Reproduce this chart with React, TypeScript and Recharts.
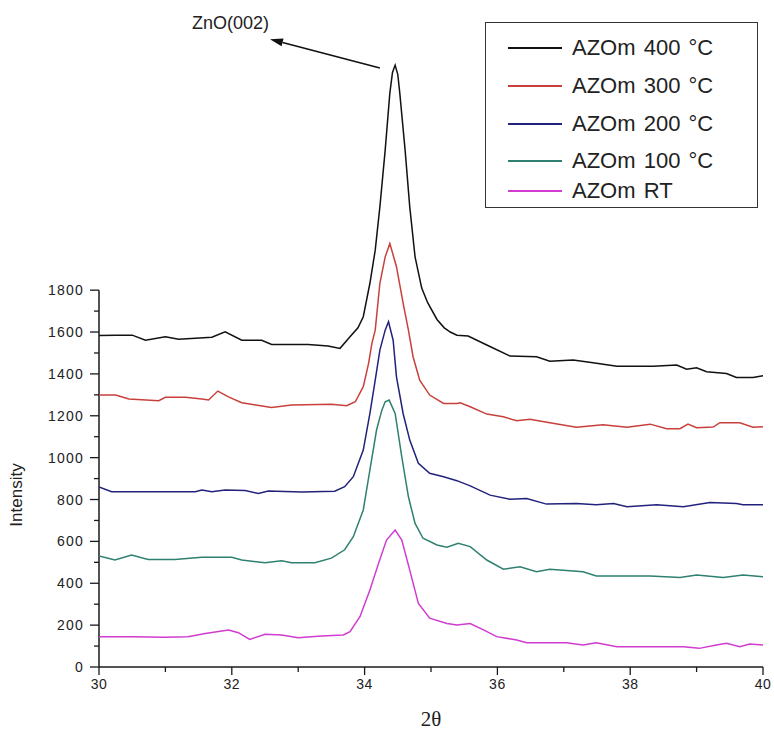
import { LineChart, Line, XAxis, YAxis, Legend, ReferenceLine, ReferenceDot } from "recharts";

// 2θ scans, one x/y pair of arrays per sample
const x400 = [30.0, 30.25, 30.5, 30.7, 31.0, 31.2, 31.45, 31.7, 31.9, 32.15, 32.45, 32.6, 33.15, 33.45, 33.63, 33.78, 33.9, 33.98, 34.08, 34.16, 34.23, 34.31, 34.38, 34.42, 34.46, 34.5, 34.53, 34.61, 34.68, 34.76, 34.86, 34.95, 35.09, 35.2, 35.29, 35.39, 35.56, 35.84, 36.19, 36.59, 36.79, 37.14, 37.44, 37.8, 38.35, 38.7, 38.85, 39.0, 39.15, 39.45, 39.6, 39.85, 40.0];
const y400 = [1583, 1585, 1585, 1561, 1577, 1566, 1570, 1575, 1601, 1561, 1561, 1541, 1541, 1533, 1522, 1577, 1620, 1673, 1833, 1991, 2198, 2469, 2741, 2840, 2875, 2830, 2741, 2469, 2198, 1959, 1810, 1740, 1660, 1620, 1600, 1585, 1581, 1538, 1485, 1482, 1461, 1466, 1453, 1437, 1437, 1442, 1422, 1429, 1410, 1402, 1383, 1383, 1391];

const x300 = [30.0, 30.25, 30.45, 30.9, 31.0, 31.3, 31.55, 31.65, 31.79, 31.95, 32.15, 32.6, 32.9, 33.5, 33.73, 33.86, 33.98, 34.06, 34.11, 34.16, 34.23, 34.31, 34.38, 34.48, 34.58, 34.66, 34.73, 34.83, 34.98, 35.19, 35.39, 35.44, 35.59, 35.84, 36.09, 36.29, 36.49, 36.79, 37.19, 37.59, 37.95, 38.3, 38.55, 38.75, 38.87, 39.0, 39.25, 39.35, 39.65, 39.85, 40.0];
const y300 = [1299, 1299, 1280, 1272, 1288, 1288, 1280, 1275, 1318, 1290, 1262, 1240, 1251, 1255, 1248, 1267, 1339, 1450, 1546, 1609, 1833, 1959, 2023, 1912, 1738, 1609, 1482, 1370, 1299, 1259, 1259, 1262, 1243, 1208, 1195, 1176, 1183, 1167, 1145, 1157, 1145, 1160, 1138, 1138, 1160, 1143, 1146, 1167, 1167, 1145, 1148];

const x200 = [30.0, 30.19, 30.5, 31.0, 31.45, 31.55, 31.7, 31.9, 32.2, 32.4, 32.55, 33.05, 33.55, 33.7, 33.83, 33.98, 34.08, 34.16, 34.23, 34.31, 34.36, 34.43, 34.48, 34.58, 34.68, 34.81, 34.98, 35.19, 35.39, 35.59, 35.89, 36.19, 36.44, 36.74, 37.19, 37.49, 37.75, 37.95, 38.4, 38.8, 39.2, 39.6, 39.7, 40.0];
const y200 = [860, 837, 837, 837, 837, 845, 837, 845, 843, 829, 841, 836, 840, 861, 909, 1036, 1211, 1370, 1514, 1609, 1649, 1561, 1386, 1211, 1084, 973, 925, 909, 890, 865, 821, 801, 805, 778, 781, 775, 781, 766, 775, 766, 786, 781, 775, 775];

const x100 = [30.0, 30.24, 30.49, 30.74, 31.14, 31.55, 32.0, 32.15, 32.5, 32.75, 32.9, 33.25, 33.5, 33.7, 33.83, 33.98, 34.08, 34.18, 34.26, 34.31, 34.37, 34.46, 34.56, 34.66, 34.76, 34.88, 35.09, 35.24, 35.41, 35.59, 35.84, 36.09, 36.34, 36.59, 36.79, 37.29, 37.49, 37.9, 38.3, 38.75, 39.0, 39.4, 39.7, 40.0];
const y100 = [530, 511, 535, 514, 514, 524, 524, 511, 498, 508, 498, 498, 520, 560, 622, 750, 941, 1132, 1227, 1267, 1275, 1211, 1004, 813, 686, 615, 583, 572, 591, 575, 511, 467, 479, 455, 467, 455, 435, 435, 435, 428, 439, 428, 439, 431];

const xRT = [30.0, 30.49, 30.99, 31.34, 31.6, 31.95, 32.1, 32.27, 32.5, 32.75, 33.0, 33.35, 33.68, 33.78, 33.93, 34.08, 34.21, 34.33, 34.46, 34.56, 34.68, 34.81, 34.98, 35.24, 35.39, 35.59, 35.79, 35.99, 36.29, 36.44, 36.79, 37.04, 37.29, 37.49, 37.8, 38.4, 38.8, 39.04, 39.3, 39.45, 39.65, 39.8, 40.0];
const yRT = [145, 145, 142, 145, 160, 177, 164, 132, 156, 153, 140, 148, 153, 169, 240, 368, 495, 606, 654, 606, 463, 304, 233, 208, 201, 208, 177, 145, 129, 116, 116, 116, 105, 116, 97, 97, 97, 89, 105, 113, 97, 110, 105];

const seriesNames = ["AZOm 400 °C", "AZOm 300 °C", "AZOm 200 °C", "AZOm 100 °C", "AZOm RT"];
const seriesColors = ["#111111", "#c8403c", "#22227c", "#2f8070", "#d03cd0"];
const seriesX = [x400, x300, x200, x100, xRT];
const seriesY = [y400, y300, y200, y100, yRT];

const xTicks = [30, 31, 32, 33, 34, 35, 36, 37, 38, 39, 40];
const yTicks = [0, 100, 200, 300, 400, 500, 600, 700, 800, 900, 1000, 1100, 1200, 1300, 1400, 1500, 1600, 1700, 1800];

// peak annotation: label position and arrow (start at the peak, tip near the label)
const peakLabel = "ZnO(002)";
const peakLabelAt = { x: 31.98, y: 3075 };
const arrowFrom = { x: 34.23, y: 2861 };
const arrowTo = { x: 32.575, y: 2999 };

const SANS = "Arial, 'Liberation Sans', sans-serif";
const AXIS = "#1a1a1a";

function YTick(props: any) {
  const { x, y, payload } = props;
  const major = payload.value % 200 === 0;
  return (
    <g>
      <line x1={x} y1={y} x2={x - (major ? 9 : 5)} y2={y} stroke={AXIS} strokeWidth={1.3} />
      {major && (
        <text x={x - 15} y={y + 5} textAnchor="end" fontSize={14} letterSpacing={1.2} fill="#222" fontFamily={SANS}>
          {payload.value}
        </text>
      )}
    </g>
  );
}

function XTick(props: any) {
  const { x, y, payload } = props;
  const major = payload.value % 2 === 0;
  return (
    <g>
      <line x1={x} y1={y} x2={x} y2={y + (major ? 8 : 5)} stroke={AXIS} strokeWidth={1.3} />
      {major && (
        <text x={x} y={y + 22} textAnchor="middle" fontSize={14} letterSpacing={0.5} fill="#222" fontFamily={SANS}>
          {payload.value}
        </text>
      )}
    </g>
  );
}

function Arrow(p: any) {
  const { x1, y1, x2, y2 } = p;
  const [tx, ty, sx, sy] = x1 < x2 ? [x1, y1, x2, y2] : [x2, y2, x1, y1];
  const ang = Math.atan2(sy - ty, sx - tx);
  const L = 13;
  const W = 4;
  const bx = tx + L * Math.cos(ang);
  const by = ty + L * Math.sin(ang);
  const nx = -Math.sin(ang) * W;
  const ny = Math.cos(ang) * W;
  return (
    <g>
      <line x1={sx} y1={sy} x2={bx} y2={by} stroke="#111" strokeWidth={1.6} />
      <polygon points={`${tx},${ty} ${bx + nx},${by + ny} ${bx - nx},${by - ny}`} fill="#111" />
    </g>
  );
}

function LegendBox() {
  const rows = [25, 63, 101, 138, 168];
  return (
    <div style={{ position: "relative", width: 271, height: 184, border: "1.5px solid #333", background: "#fff" }}>
      {seriesNames.map((name, i) => (
        <div key={name} style={{ position: "absolute", left: 0, top: rows[i] - 14, height: 28, display: "flex", alignItems: "center" }}>
          <div style={{ marginLeft: 22, width: 54, height: 1.5, background: seriesColors[i] }} />
          <span style={{ marginLeft: 10, fontFamily: SANS, fontSize: 22, color: "#222", wordSpacing: 2, whiteSpace: "nowrap" }}>
            {name}
          </span>
        </div>
      ))}
    </div>
  );
}

export default function App() {
  return (
    <div style={{ position: "absolute", left: 0, top: 0, width: 774, height: 744, background: "#fff", overflow: "hidden" }}>
      <LineChart width={774} height={744} margin={{ top: 18, right: 11, left: 8, bottom: 8 }}>
        <XAxis
          type="number"
          dataKey="x"
          domain={[30, 40]}
          ticks={xTicks}
          interval={0}
          allowDataOverflow
          height={69}
          tickSize={0}
          tickMargin={0}
          tickLine={false}
          tick={<XTick />}
          axisLine={{ stroke: AXIS, strokeWidth: 1.5 }}
          label={{ value: "2θ", position: "insideBottom", offset: 10, fontSize: 21, fill: "#222", fontFamily: "'Times New Roman', 'Liberation Serif', serif" }}
        />
        <YAxis
          type="number"
          domain={[0, 3100]}
          ticks={yTicks}
          interval={0}
          allowDataOverflow
          width={91}
          tickSize={0}
          tickMargin={0}
          tickLine={false}
          axisLine={false}
          tick={<YTick />}
          label={(p: any) => {
            const vb = p.viewBox;
            return (
              <text
                transform={`translate(${vb.x + 14}, ${vb.y + vb.height - 172}) rotate(-90)`}
                textAnchor="middle"
                fontSize={17}
                fill="#222"
                fontFamily={SANS}
              >
                Intensity
              </text>
            );
          }}
        />
        <ReferenceLine segment={[{ x: 30, y: 0 }, { x: 30, y: 1800 }]} stroke={AXIS} strokeWidth={1.5} ifOverflow="visible" />
        {seriesNames.map((name, i) => (
          <Line
            key={name}
            name={name}
            data={seriesX[i].map((x, j) => ({ x, y: seriesY[i][j] }))}
            dataKey="y"
            type="linear"
            stroke={seriesColors[i]}
            strokeWidth={1.5}
            dot={false}
            isAnimationActive={false}
          />
        ))}
        <ReferenceLine segment={[arrowFrom, arrowTo]} ifOverflow="visible" shape={<Arrow />} />
        <ReferenceDot
          x={peakLabelAt.x}
          y={peakLabelAt.y}
          r={0}
          ifOverflow="visible"
          shape={(p: any) => (
            <text x={p.cx} y={p.cy + 6} textAnchor="middle" fontSize={18} fill="#222" fontFamily={SANS}>
              {peakLabel}
            </text>
          )}
        />
        <Legend
          layout="horizontal"
          verticalAlign="middle"
          align="center"
          content={<LegendBox />}
          wrapperStyle={{ position: "absolute", left: 485, top: 22, width: 274, height: 187 }}
        />
      </LineChart>
    </div>
  );
}
